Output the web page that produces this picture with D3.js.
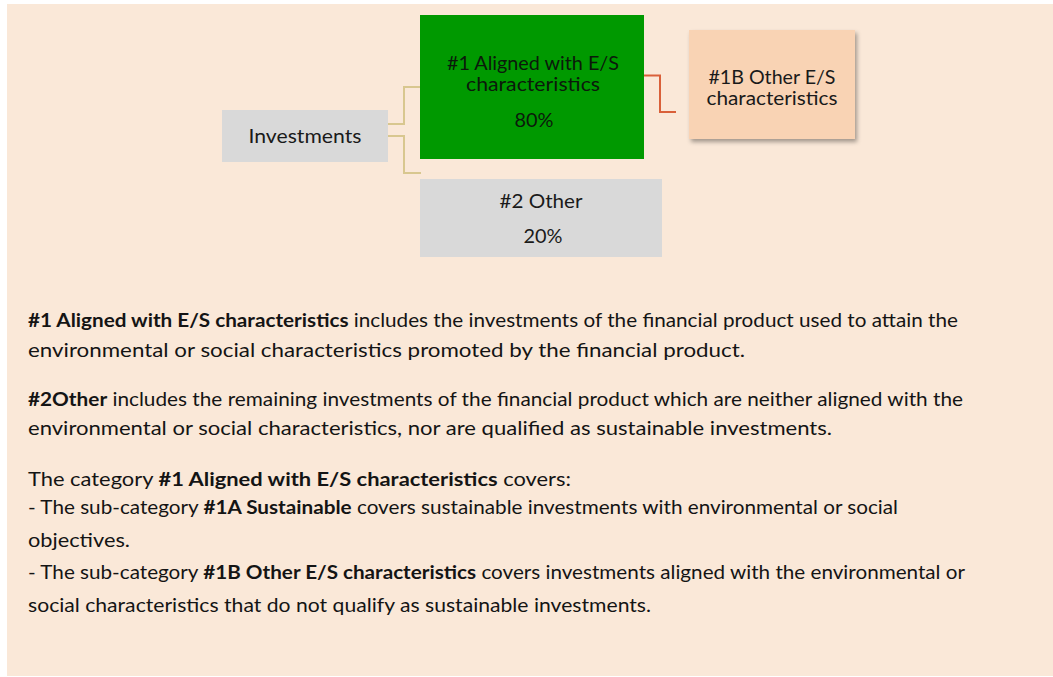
<!DOCTYPE html>
<html>
<head>
<meta charset="utf-8">
<script src="https://cdn.jsdelivr.net/npm/d3@7"></script>
<style>
  html, body { margin: 0; padding: 0; background: #ffffff; }
  svg { display: block; }
  text { font-family: Lato, "Open Sans", sans-serif; }
</style>
</head>
<body>
<svg id="chart" width="1053" height="677"></svg>
<script>
// ---- data -------------------------------------------------------------
var nodeIds = ["inv", "es", "other", "es1b"];
var nodeTitles = [
  ["Investments"],
  ["#1 Aligned with E/S", "characteristics"],
  ["#2 Other"],
  ["#1B Other E/S", "characteristics"]
];
var nodeShares = [null, 80, 20, null];   // percent of investments
var linkPairs = [["inv", "es"], ["inv", "other"], ["es", "es1b"]];

// paragraph lines: [text, bold]
var noteLines = [
  [["#1 Aligned with E/S characteristics", true], [" includes the investments of the financial product used to attain the", false]],
  [["environmental or social characteristics promoted by the financial product.", false]],
  [["#2Other", true], [" includes the remaining investments of the financial product which are neither aligned with the", false]],
  [["environmental or social characteristics, nor are qualified as sustainable investments.", false]],
  [["The category ", false], ["#1 Aligned with E/S characteristics", true], [" covers:", false]],
  [["- The sub-category ", false], ["#1A Sustainable", true], [" covers sustainable investments with environmental or social", false]],
  [["objectives.", false]],
  [["- The sub-category ", false], ["#1B Other E/S characteristics", true], [" covers investments aligned with the environmental or", false]],
  [["social characteristics that do not qualify as sustainable investments.", false]]
];

// ---- layout -----------------------------------------------------------
var boxes = {
  inv:   { x: 222, y: 110, w: 166, h: 52,  fill: "#d9d9d9", lines: [143], pct: null },
  es:    { x: 420, y: 15,  w: 224, h: 144, fill: "#009900", lines: [70, 91], pct: 127 },
  other: { x: 420, y: 179, w: 242, h: 78,  fill: "#d9d9d9", lines: [208], pct: 243 },
  es1b:  { x: 689, y: 30,  w: 166, h: 109, fill: "#f9d3b4", lines: [84, 105], pct: null, shadow: true }
};
var titleWidths = {
  inv: [113], es: [172, 134], other: [83], es1b: [127, 131]
};
var links = {
  "inv-es":    { y0: 124, xm: 404, y1: 87,  x1: 420, color: "#d8c78f" },
  "inv-other": { y0: 136, xm: 404, y1: 173, x1: 421, color: "#d8c78f" },
  "es-es1b":   { y0: 75.5, xm: 660, y1: 112, x1: 676, color: "#d9603a" }
};
var noteX = 28;
var noteBaselines = [327, 357, 406, 435, 486, 514, 547, 579, 612];
var noteWidths = [930, 717, 935, 804, 543, 870, 102, 937, 623];

var svg = d3.select("#chart");

var defs = svg.append("defs");
var f = defs.append("filter").attr("id", "shadow")
  .attr("x", "-10%").attr("y", "-10%").attr("width", "130%").attr("height", "140%");
f.append("feDropShadow").attr("dx", 2).attr("dy", 3).attr("stdDeviation", 2)
  .attr("flood-color", "#000").attr("flood-opacity", 0.35);

// background panel
svg.append("rect").attr("x", 7).attr("y", 4).attr("width", 1046).attr("height", 672)
  .attr("fill", "#fae8d8");

var nodes = nodeIds.map(function (id, i) {
  return { id: id, titles: nodeTitles[i], share: nodeShares[i], box: boxes[id] };
});
var byId = {};
nodes.forEach(function (n) { byId[n.id] = n; });

// connectors
svg.append("g").selectAll("path")
  .data(linkPairs)
  .join("path")
  .attr("fill", "none")
  .attr("stroke-width", 2)
  .attr("stroke", function (p) { return links[p[0] + "-" + p[1]].color; })
  .attr("d", function (p) {
    var s = byId[p[0]].box, l = links[p[0] + "-" + p[1]];
    var path = d3.path();
    path.moveTo(s.x + s.w, l.y0);
    path.lineTo(l.xm, l.y0);
    path.lineTo(l.xm, l.y1);
    path.lineTo(l.x1, l.y1);
    return path.toString();
  });

// boxes
var g = svg.append("g").selectAll("g")
  .data(nodes)
  .join("g");

g.append("rect")
  .attr("x", function (d) { return d.box.x; })
  .attr("y", function (d) { return d.box.y; })
  .attr("width", function (d) { return d.box.w; })
  .attr("height", function (d) { return d.box.h; })
  .attr("fill", function (d) { return d.box.fill; })
  .attr("filter", function (d) { return d.box.shadow ? "url(#shadow)" : null; });

g.each(function (d) {
  var sel = d3.select(this);
  var cx = d.box.x + d.box.w / 2;
  d.titles.forEach(function (t, k) {
    sel.append("text")
      .attr("x", cx + (d.id === "es" ? 1 : 0))
      .attr("y", d.box.lines[k])
      .attr("text-anchor", "middle")
      .attr("font-size", 19.5)
      .attr("fill", d.id === "es" ? "#0b1a0b" : "#1a1a1a")
      .text(t)
      .attr("textLength", titleWidths[d.id][k]).attr("lengthAdjust", "spacingAndGlyphs");
  });
  if (d.share != null) {
    sel.append("text")
      .attr("x", cx + 2)
      .attr("y", d.box.pct)
      .attr("text-anchor", "middle")
      .attr("font-size", 19.5)
      .attr("fill", d.id === "es" ? "#0b1a0b" : "#1a1a1a")
      .text(d.share + "%")
      .attr("textLength", 39).attr("lengthAdjust", "spacingAndGlyphs");
  }
});

// notes
var notes = svg.append("g").selectAll("text")
  .data(noteLines)
  .join("text")
  .attr("x", noteX)
  .attr("y", function (d, i) { return noteBaselines[i]; })
  .attr("font-size", 19)
  .attr("fill", "#141414");

notes.selectAll("tspan")
  .data(function (d) { return d; })
  .join("tspan")
  .attr("font-weight", function (s) { return s[1] ? "bold" : null; })
  .style("white-space", "pre")
  .text(function (s) { return s[0]; });

notes.each(function (d, i) {
  d3.select(this).attr("textLength", noteWidths[i]).attr("lengthAdjust", "spacingAndGlyphs");
});
</script>
</body>
</html>
